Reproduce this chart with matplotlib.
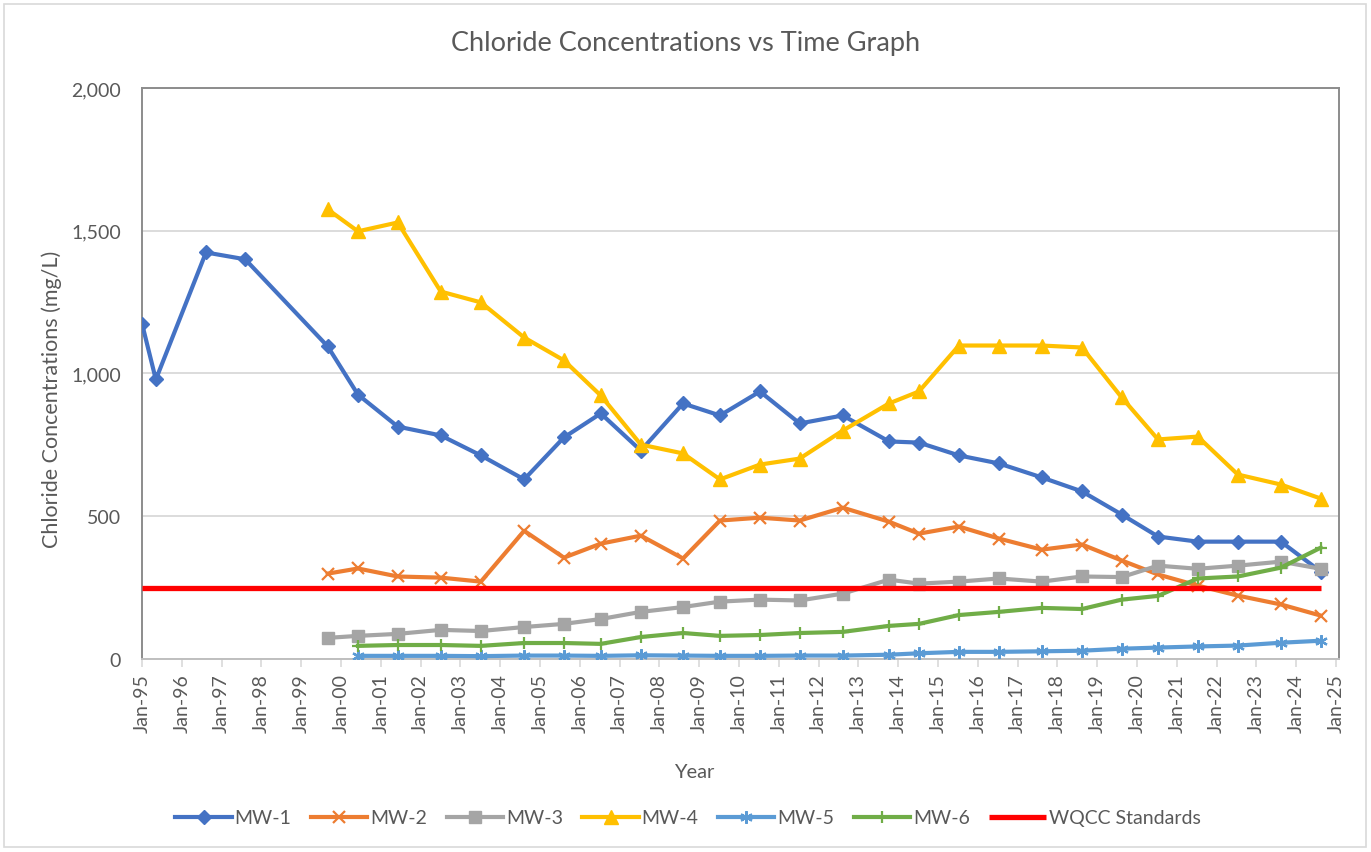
import matplotlib
matplotlib.use("Agg")
import matplotlib.pyplot as plt
import matplotlib.dates as mdates
import numpy as np
import pandas as pd
from matplotlib.patches import Rectangle

plt.rcParams['font.family'] = ['Lato', 'DejaVu Sans']

# ---------------- data ----------------
dates_mw1 = ["1995-01-01", "1995-05-08", "1996-08-10", "1997-08-05", "1999-09-01",
             "2000-06-05", "2001-06-05", "2002-07-05", "2003-07-08", "2004-08-08",
             "2005-08-08", "2006-07-12", "2007-07-15", "2008-08-05", "2009-07-10",
             "2010-07-12", "2011-07-12", "2012-08-10", "2013-10-08", "2014-07-10",
             "2015-07-12", "2016-07-12", "2017-08-10", "2018-08-14", "2019-08-14",
             "2020-07-12", "2021-07-12", "2022-07-15", "2023-08-14", "2024-08-14"]
dates_from_1999 = dates_mw1[4:]
dates_from_2000 = dates_mw1[5:]

mw1 = [1175, 979, 1424, 1400, 1095, 926, 814, 783, 713, 629,
       776, 860, 730, 895, 853, 937, 825, 853, 762, 758,
       713, 685, 636, 587, 506, 429, 411, 411, 411, 306]
mw2 = [299, 317, 289, 285, 271, 449, 355, 404, 432, 352,
       485, 495, 485, 530, 481, 439, 464, 422, 383, 401,
       345, 296, 257, 222, 191, 152]
mw3 = [74, 81, 88, 102, 98, 112, 123, 140, 165, 182,
       201, 208, 205, 229, 278, 264, 271, 282, 271, 289,
       287, 327, 316, 327, 341, 316]
mw4 = [1575, 1498, 1529, 1287, 1249, 1126, 1046, 923, 751, 720,
       629, 681, 702, 800, 895, 937, 1098, 1098, 1098, 1091,
       916, 769, 779, 646, 611, 562]
mw5 = [11, 11, 11, 10, 12, 12, 11, 13, 12, 11,
       11, 12, 12, 15, 20, 25, 25, 27, 29, 36,
       40, 44, 47, 57, 64]
mw6 = [46, 49, 49, 46, 56, 56, 53, 77, 91, 81,
       84, 91, 95, 116, 123, 154, 165, 179, 175, 208,
       221, 282, 289, 320, 390]
wqcc_dates = ["1995-01-01", "2024-08-14"]
wqcc = [250, 250]

series_names = ["MW-1", "MW-2", "MW-3", "MW-4", "MW-5", "MW-6", "WQCC Standards"]
y_ticks = [0, 500, 1000, 1500, 2000]
y_tick_labels = ["0", "500", "1,000", "1,500", "2,000"]

title = "Chloride Concentrations vs Time Graph"
x_label = "Year"
y_label = "Chloride Concentrations (mg/L)"

# ---------------- figure ----------------
W, H = 1371, 853
fig = plt.figure(figsize=(W / 100, H / 100), dpi=100)
ax = fig.add_axes([142 / W, 1 - 660 / H, (1339 - 142) / W, (660 - 89) / H])

text_color = "#595959"

def d(lst):
    return pd.to_datetime(lst)

lw = 3.0
ax.plot(d(dates_mw1), mw1, color="#4472C4", lw=lw, marker="D", ms=7.5, label=series_names[0], zorder=3)
ax.plot(d(dates_from_1999), mw2, color="#ED7D31", lw=lw, marker="x", ms=9, mew=1.6, label=series_names[1], zorder=3)
ax.plot(d(dates_from_1999), mw3, color="#A5A5A5", lw=lw, marker="s", ms=9, label=series_names[2], zorder=3)
ax.plot(d(dates_from_1999), mw4, color="#FFC000", lw=lw, marker="^", ms=10, label=series_names[3], zorder=3)
ax.plot(d(dates_from_2000), mw5, color="#5B9BD5", lw=lw, marker=(6, 2, 0), ms=9, mew=1.6, label=series_names[4], zorder=3)
ax.plot(d(dates_from_2000), mw6, color="#70AD47", lw=lw, marker="+", ms=9, mew=1.6, label=series_names[5], zorder=3)
ax.plot(d(wqcc_dates), wqcc, color="#FF0000", lw=3.8, label=series_names[6], zorder=4, solid_capstyle="butt")

ax.set_ylim(0, 2000)
ax.set_yticks(y_ticks)
ax.set_yticklabels(y_tick_labels)
ax.set_xlim(pd.Timestamp("1995-01-01"), pd.Timestamp("2025-01-28"))
ax.xaxis.set_major_locator(mdates.YearLocator(1, month=1, day=1))
ax.xaxis.set_major_formatter(mdates.DateFormatter("%b-%y"))

ax.grid(axis="y", color="#D9D9D9", lw=1.3, zorder=0)
ax.set_axisbelow(True)
for s in ax.spines.values():
    s.set_color("#8C8C8C")
    s.set_linewidth(1.4)
ax.spines["bottom"].set_color("#BFBFBF")

ax.tick_params(axis="y", length=0, pad=15, labelsize=14, labelcolor=text_color)
ax.tick_params(axis="x", length=6, width=1.2, color="#D9D9D9", pad=4,
               labelsize=14, labelcolor=text_color, labelrotation=90)

fig.text(685.5 / W, 1 - 43 / H, title, ha="center", va="center", fontsize=19.5, color=text_color)
fig.text(694 / W, 1 - 773 / H, x_label, ha="center", va="center", fontsize=14.5, color=text_color)
fig.text(52 / W, 1 - 399 / H, y_label, ha="center", va="center", rotation=90, fontsize=15.5, color=text_color)

handles, labels = ax.get_legend_handles_labels()
leg = fig.legend(handles, labels, loc="center", bbox_to_anchor=(688 / W, 1 - 819 / H),
                 ncol=7, frameon=False, fontsize=14, handlelength=2.9, handletextpad=0.15,
                 columnspacing=1.0, labelcolor=text_color)

fig.patches.append(Rectangle((4 / W, 5 / H), (1366 - 4) / W, (848 - 5) / H, transform=fig.transFigure,
                             fill=False, edgecolor="#D9D9D9", lw=1.2))

fig.savefig("out.png", dpi=100, facecolor="white")
